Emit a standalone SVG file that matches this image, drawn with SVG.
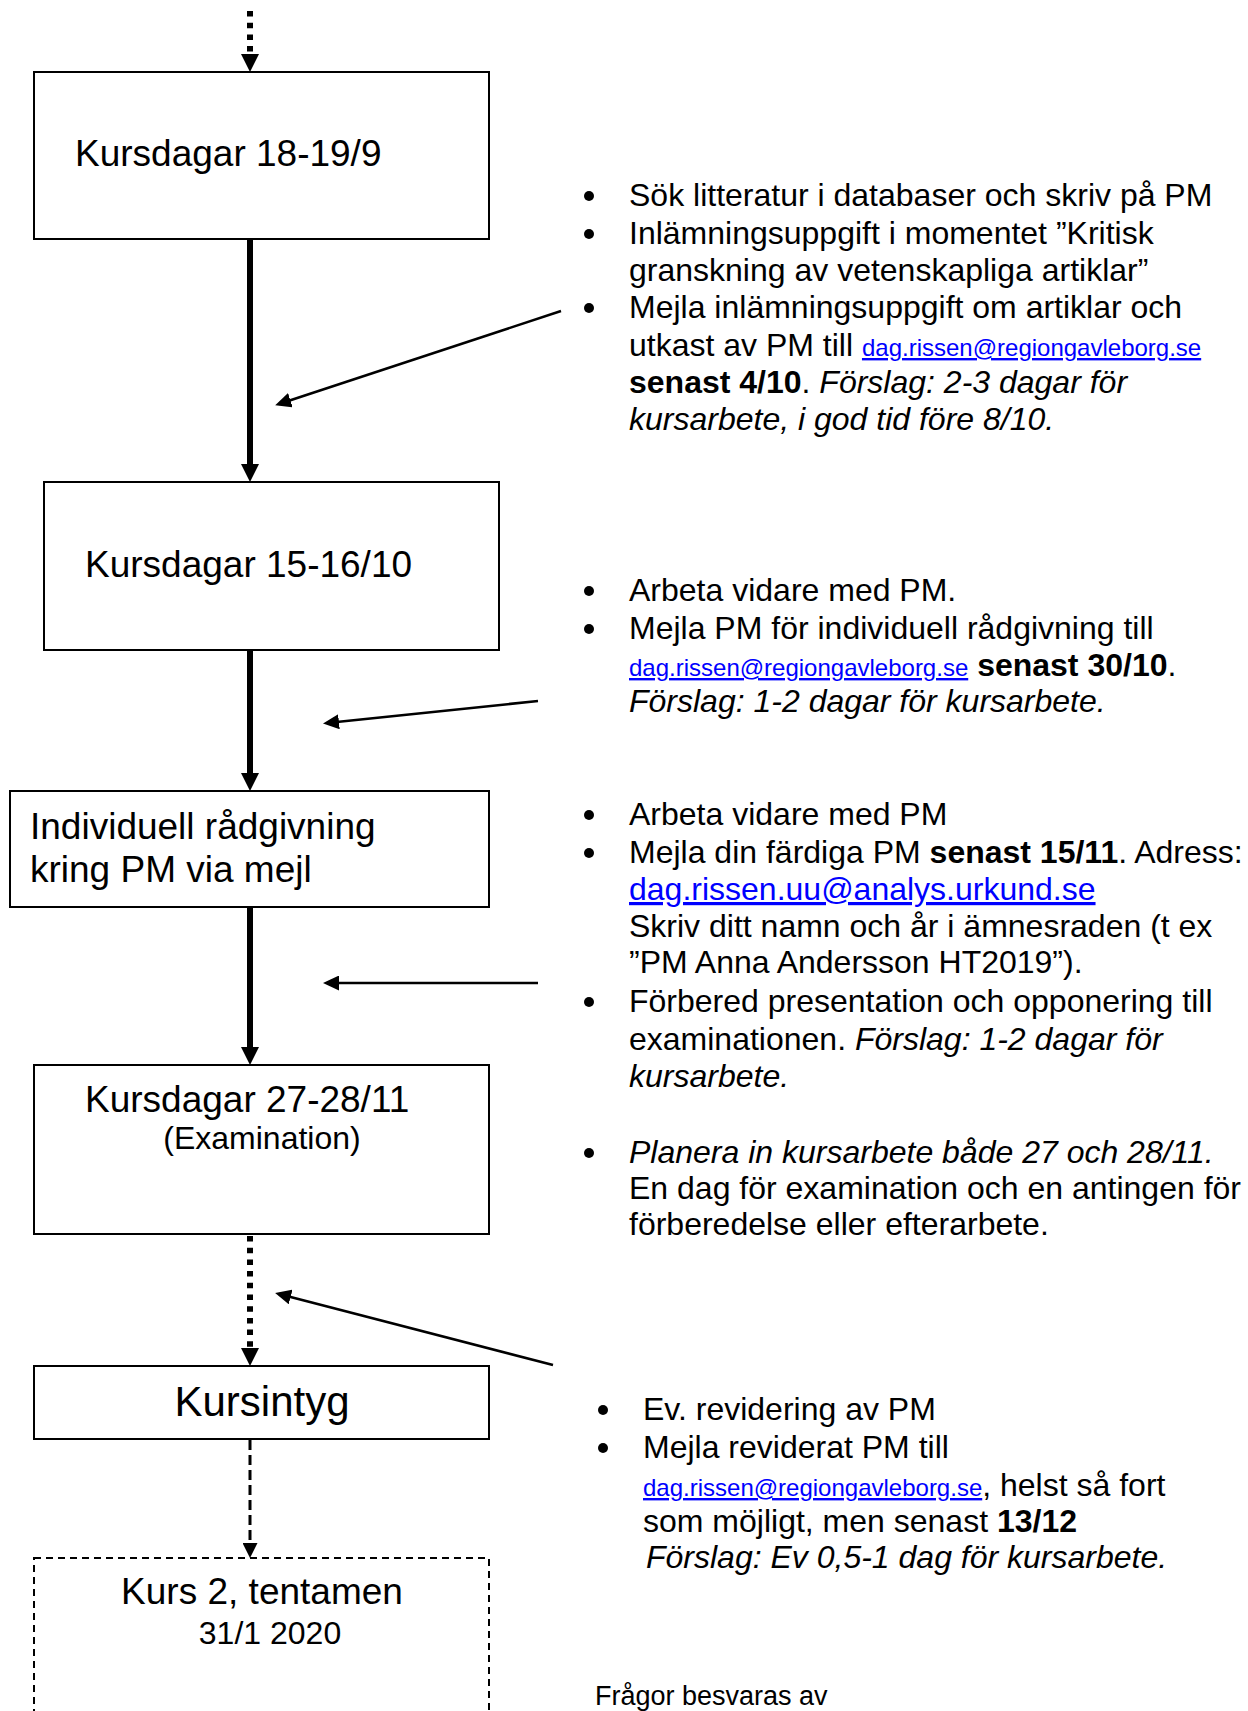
<svg xmlns="http://www.w3.org/2000/svg" width="1248" height="1711" viewBox="0 0 1248 1711">
<style>
.box{fill:#fff;stroke:#000;stroke-width:2}
.dbox{fill:none;stroke:#000;stroke-width:2;stroke-dasharray:7 5}
text{font-family:"Liberation Sans",Arial,sans-serif;fill:#000}
.f32{font-size:32px}
.f37{font-size:37px}
.f42{font-size:42px}
.f27{font-size:27px}
.sm{font-size:24px}
.lnk{fill:#0000FF;text-decoration:underline}
.bd{font-weight:bold}
.it{font-style:italic}
.thick{stroke:#000;stroke-width:6;fill:none}
.dot{stroke-dasharray:5.5 6.2}
.dash{stroke:#000;stroke-width:3;fill:none;stroke-dasharray:10 5}
.side{stroke:#000;stroke-width:2.5;fill:none}
.bul{fill:#000}
</style>
<defs>
<marker id="hBig" markerUnits="userSpaceOnUse" markerWidth="18" markerHeight="18" refX="6" refY="9" orient="auto"><path d="M0,0 L18,9 L0,18 Z" fill="#000"/></marker>
<marker id="hMid" markerUnits="userSpaceOnUse" markerWidth="15" markerHeight="15" refX="5" refY="7.5" orient="auto"><path d="M0,0 L15,7.5 L0,15 Z" fill="#000"/></marker>
<marker id="hSide" markerUnits="userSpaceOnUse" markerWidth="16" markerHeight="15" refX="12" refY="7.5" orient="auto"><path d="M0,0 L16,7.5 L0,15 Z" fill="#000"/></marker>
</defs>

<g id="connectors">
<line class="thick dot" x1="250" y1="11" x2="250" y2="60" marker-end="url(#hBig)"/>
<line class="thick" x1="250" y1="239" x2="250" y2="470" marker-end="url(#hBig)"/>
<line class="thick" x1="250" y1="650" x2="250" y2="779" marker-end="url(#hBig)"/>
<line class="thick" x1="250" y1="907" x2="250" y2="1053" marker-end="url(#hBig)"/>
<line class="thick dot" x1="250" y1="1236" x2="250" y2="1354" marker-end="url(#hBig)"/>
<line class="dash" x1="250" y1="1440" x2="250" y2="1548" marker-end="url(#hMid)"/>
<line class="side" x1="561" y1="311" x2="279" y2="404" marker-end="url(#hSide)"/>
<line class="side" x1="538" y1="701" x2="327" y2="723" marker-end="url(#hSide)"/>
<line class="side" x1="538" y1="983" x2="327" y2="983" marker-end="url(#hSide)"/>
<line class="side" x1="553" y1="1365" x2="279" y2="1294" marker-end="url(#hSide)"/>
</g>

<g id="node-kursdagar-18-19">
<rect class="box" x="34" y="72" width="455" height="167"/>
<text class="f37" x="75" y="166">Kursdagar 18-19/9</text>
</g>

<g id="node-kursdagar-15-16">
<rect class="box" x="44" y="482" width="455" height="168"/>
<text class="f37" x="85" y="577">Kursdagar 15-16/10</text>
</g>

<g id="node-radgivning">
<rect class="box" x="10" y="791" width="479" height="116"/>
<text class="f37" x="30" y="839">Individuell rådgivning</text>
<text class="f37" x="30" y="882">kring PM via mejl</text>
</g>

<g id="node-kursdagar-27-28">
<rect class="box" x="34" y="1065" width="455" height="169"/>
<text class="f37" x="85" y="1112">Kursdagar 27-28/11</text>
<text class="f32" x="262" y="1149" text-anchor="middle">(Examination)</text>
</g>

<g id="node-kursintyg">
<rect class="box" x="34" y="1366" width="455" height="73"/>
<text class="f42" x="262" y="1416" text-anchor="middle">Kursintyg</text>
</g>

<g id="node-kurs2">
<rect class="dbox" x="34" y="1558" width="455" height="170"/>
<text class="f37" x="262" y="1604" text-anchor="middle">Kurs 2, tentamen</text>
<text class="f32" x="270" y="1644" text-anchor="middle">31/1 2020</text>
</g>

<g id="notes-1">
<circle class="bul" cx="589" cy="196" r="5"/>
<circle class="bul" cx="589" cy="234" r="5"/>
<circle class="bul" cx="589" cy="308" r="5"/>
<text class="f32" x="629" y="206">Sök litteratur i databaser och skriv på PM</text>
<text class="f32" x="629" y="244">Inlämningsuppgift i momentet ”Kritisk</text>
<text class="f32" x="629" y="281">granskning av vetenskapliga artiklar”</text>
<text class="f32" x="629" y="318">Mejla inlämningsuppgift om artiklar och</text>
<text class="f32" x="629" y="356">utkast av PM till <tspan class="sm lnk">dag.rissen@regiongavleborg.se</tspan></text>
<text class="f32" x="629" y="393"><tspan class="bd">senast 4/10</tspan>. <tspan class="it">Förslag: 2-3 dagar för</tspan></text>
<text class="f32 it" x="629" y="430">kursarbete, i god tid före 8/10.</text>
</g>

<g id="notes-2">
<circle class="bul" cx="589" cy="591" r="5"/>
<circle class="bul" cx="589" cy="629" r="5"/>
<text class="f32" x="629" y="601">Arbeta vidare med PM.</text>
<text class="f32" x="629" y="639">Mejla PM för individuell rådgivning till</text>
<text class="f32" x="629" y="676"><tspan class="sm lnk">dag.rissen@regiongavleborg.se</tspan> <tspan class="bd">senast 30/10</tspan>.</text>
<text class="f32 it" x="629" y="712">Förslag: 1-2 dagar för kursarbete.</text>
</g>

<g id="notes-3">
<circle class="bul" cx="589" cy="815" r="5"/>
<circle class="bul" cx="589" cy="853" r="5"/>
<circle class="bul" cx="589" cy="1002" r="5"/>
<circle class="bul" cx="589" cy="1153" r="5"/>
<text class="f32" x="629" y="825">Arbeta vidare med PM</text>
<text class="f32" x="629" y="863">Mejla din färdiga PM <tspan class="bd">senast 15/11</tspan>. Adress:</text>
<text class="f32 lnk" x="629" y="900">dag.rissen.uu@analys.urkund.se</text>
<text class="f32" x="629" y="937">Skriv ditt namn och år i ämnesraden (t ex</text>
<text class="f32" x="629" y="973">”PM Anna Andersson HT2019”).</text>
<text class="f32" x="629" y="1012">Förbered presentation och opponering till</text>
<text class="f32" x="629" y="1050">examinationen. <tspan class="it">Förslag: 1-2 dagar för</tspan></text>
<text class="f32 it" x="629" y="1087">kursarbete.</text>
<text class="f32 it" x="629" y="1163">Planera in kursarbete både 27 och 28/11.</text>
<text class="f32" x="629" y="1199">En dag för examination och en antingen för</text>
<text class="f32" x="629" y="1235">förberedelse eller efterarbete.</text>
</g>

<g id="notes-4">
<circle class="bul" cx="603" cy="1410" r="5"/>
<circle class="bul" cx="603" cy="1448" r="5"/>
<text class="f32" x="643" y="1420">Ev. revidering av PM</text>
<text class="f32" x="643" y="1458">Mejla reviderat PM till</text>
<text class="f32" x="643" y="1496"><tspan class="sm lnk">dag.rissen@regiongavleborg.se</tspan>, helst så fort</text>
<text class="f32" x="643" y="1532">som möjligt, men senast <tspan class="bd">13/12</tspan></text>
<text class="f32 it" x="646" y="1568">Förslag: Ev 0,5-1 dag för kursarbete.</text>
</g>

<g id="footer">
<text class="f27" x="595" y="1705">Frågor besvaras av</text>
</g>
</svg>
